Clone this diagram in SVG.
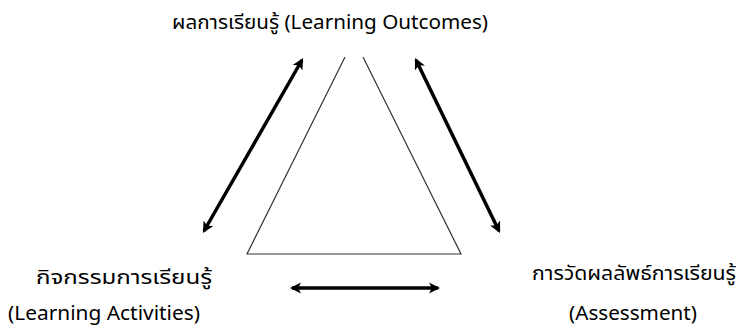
<svg xmlns="http://www.w3.org/2000/svg" width="740" height="329" viewBox="0 0 740 329">
<style>
text{font-family:"Noto Sans","Noto Sans Thai","Tahoma",sans-serif;font-size:20px;fill:#000;text-anchor:middle}
.tri{fill:none;stroke:#333;stroke-width:1.2}
.arr{stroke:#000;stroke-width:3.5;fill:none;marker-start:url(#ah);marker-end:url(#ah)}
</style>
<defs>
<marker id="ah" viewBox="0 0 10 10" refX="8" refY="5" markerWidth="3.2" markerHeight="3.2" orient="auto-start-reverse" markerUnits="strokeWidth">
<path d="M0,0 L10,5 L0,10 L2.5,5 Z" fill="#000"/>
</marker>
</defs>
<rect width="740" height="329" fill="#fff"/>
<g id="triangle">
<polyline class="tri" points="345,57 247,254 461,254 363,57"/>
</g>
<g id="outcomes"><text x="330" y="29" textLength="316" lengthAdjust="spacingAndGlyphs">ผลการเรียนรู้ (Learning Outcomes)</text></g>
<g id="activities"><text x="124" y="284" textLength="176" lengthAdjust="spacingAndGlyphs">กิจกรรมการเรียนรู้</text><text x="104" y="320" textLength="192" lengthAdjust="spacingAndGlyphs">(Learning Activities)</text></g>
<g id="assessment"><text x="634" y="280" textLength="204" lengthAdjust="spacingAndGlyphs">การวัดผลลัพธ์การเรียนรู้</text><text x="633" y="320" textLength="128" lengthAdjust="spacingAndGlyphs">(Assessment)</text></g>
<g id="connectors">
<line class="arr" x1="204" y1="231" x2="302" y2="60"/>
<line class="arr" x1="416" y1="60" x2="499" y2="231"/>
<line class="arr" x1="292" y1="288" x2="438" y2="288"/>
</g>
</svg>
